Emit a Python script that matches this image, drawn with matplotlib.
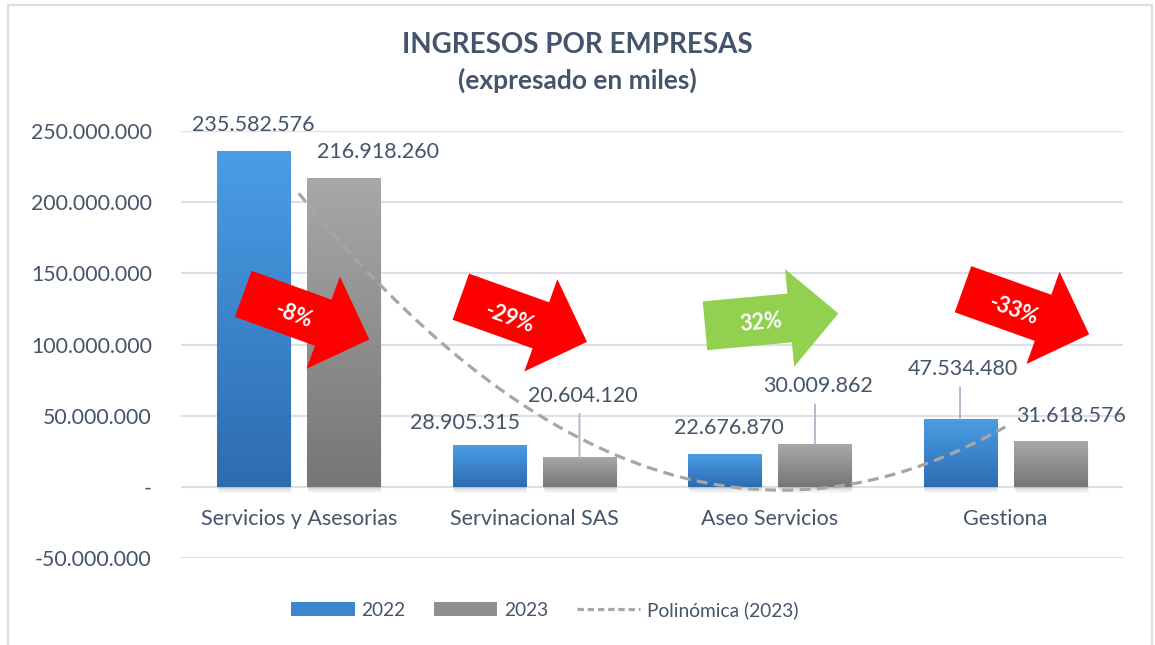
import matplotlib
matplotlib.use("Agg")
import matplotlib.pyplot as plt
import numpy as np
from matplotlib.colors import LinearSegmentedColormap
from matplotlib.patches import Patch, Polygon, Rectangle
from matplotlib.lines import Line2D
from matplotlib.ticker import FuncFormatter, MultipleLocator

plt.rcParams["font.family"] = ["Lato", "DejaVu Sans"]

# datos
empresas = ["Servicios y Asesorias", "Servinacional SAS", "Aseo Servicios", "Gestiona"]
ingresos_2022 = [235582576, 28905315, 22676870, 47534480]
ingresos_2023 = [216918260, 20604120, 30009862, 31618576]
variacion = ["-8%", "-29%", "32%", "-33%"]

TXT = "#44546A"
W, H = 1155, 645

fig = plt.figure(figsize=(W / 100, H / 100), dpi=100)
ax = fig.add_axes([181 / W, 1 - 558.3 / H, 942 / W, 427.3 / H])

# marco del grafico
fig.patches.append(Rectangle((8 / W, -0.1), 1144 / W, 1.1 - 5 / H, transform=fig.transFigure,
                             fill=False, ec="#D9DEE6", lw=1.5))

x = np.arange(len(empresas))
off, bw = 0.192, 0.31

cmap_azul = LinearSegmentedColormap.from_list("az", ["#2E6CB0", "#4A9DE6"])
cmap_gris = LinearSegmentedColormap.from_list("gr", ["#767676", "#A8A8A8"])
grad = np.linspace(0, 1, 256).reshape(-1, 1)


def barras_gradiente(xpos, vals, cmap):
    bars = ax.bar(xpos, vals, bw, color="none", zorder=3)
    for b in bars:
        x0, w, h = b.get_x(), b.get_width(), b.get_height()
        # sombra suave
        for k, a in enumerate([0.06, 0.05, 0.04]):
            ax.add_patch(Rectangle((x0 + 0.004 * k, -1.5e6 * (k + 1)), w, h, fc="#000000",
                                   alpha=a, ec="none", zorder=2))
        ax.imshow(grad, extent=[x0, x0 + w, 0, h], origin="lower", cmap=cmap,
                  aspect="auto", zorder=3)
    return bars


b22 = barras_gradiente(x - off, ingresos_2022, cmap_azul)
b23 = barras_gradiente(x + off, ingresos_2023, cmap_gris)

# linea de tendencia polinomica (orden 2) sobre 2023
coef = np.polyfit(x, ingresos_2023, 2)
xs = np.linspace(x[0], x[-1], 200)
ax.plot(xs, np.polyval(coef, xs), color="#A6A6A6", lw=2.3, dashes=(3.4, 2.0), zorder=4)

ax.set_xlim(-0.5, 3.5)
ax.set_ylim(-50e6, 250e6)
ax.yaxis.set_major_locator(MultipleLocator(50e6))
ax.yaxis.set_major_formatter(FuncFormatter(lambda v, p: "-" if v == 0 else f"{int(v):,}".replace(",", ".")))
ax.grid(axis="y", color="#DCE0E6", lw=1.5, zorder=0)
ax.set_axisbelow(True)
for s in ax.spines.values():
    s.set_visible(False)
ax.spines["bottom"].set_position(("data", 0))
ax.tick_params(axis="y", length=0, pad=21, labelsize=15.3, labelcolor=TXT)
ax.tick_params(axis="x", length=0, pad=16, labelsize=15.5, labelcolor=TXT)
ax.set_xticks(x)
ax.set_xticklabels(empresas)


def fmt(v):
    return f"{v:,}".replace(",", ".")


# etiquetas de datos (desplazamiento en pixeles, linea guia)
etq22 = [(0, 27, False), (-24, 23, False), (4, 27, False), (2.5, 50, True)]
etq23 = [(34.5, 26, False), (3, 62, True), (3, 58, True), (21, 26, False)]
for bars, vals, etq in [(b22, ingresos_2022, etq22), (b23, ingresos_2023, etq23)]:
    for b, v, (dx, dy, guia) in zip(bars, vals, etq):
        xc = b.get_x() + b.get_width() / 2
        if guia:
            ax.annotate("", xy=(xc, v), xytext=(0, dy - 18), textcoords="offset pixels",
                        arrowprops=dict(arrowstyle="-", color="#A9B6C8", lw=1.3,
                                        shrinkA=0, shrinkB=0), zorder=5)
        ax.annotate(fmt(v), xy=(xc, v), xytext=(dx, dy), textcoords="offset pixels",
                    ha="center", va="center", fontsize=15.5, color=TXT, zorder=5)

# flechas de variacion (coordenadas en pixeles de la imagen)
flechas = [((243.3, 293.8), -19.9, (294, 315)),
           ((460.8, 296.7), -19.7, (510, 318)),
           ((705.0, 325.8), 5.3, (761, 323)),
           ((963.0, 289.2), -19.7, (1014, 310))]
forma = np.array([(0, -24.5), (85, -24.5), (85, -49), (134, 0), (85, 49), (85, 24.5), (0, 24.5)])
for (cola, ang, tpos), txt in zip(flechas, variacion):
    col = "#92D050" if not txt.startswith("-") else "#FF0000"
    a = np.deg2rad(ang)
    rot = np.array([[np.cos(a), -np.sin(a)], [np.sin(a), np.cos(a)]])
    pts = forma @ rot.T + np.array([cola[0], H - cola[1]])
    pts = pts / np.array([W, H])
    fig.patches.append(Polygon(pts, closed=True, fc=col, ec="none", transform=fig.transFigure, zorder=6))
    fig.text(tpos[0] / W, 1 - tpos[1] / H, txt, rotation=ang, rotation_mode="anchor",
             ha="center", va="center", color="white", fontsize=15.5, fontweight="bold", zorder=7)

# titulo
fig.text(0.5, 1 - 45 / H, "INGRESOS POR EMPRESAS", ha="center", va="center",
         fontsize=20, fontweight="bold", color=TXT)
fig.text(0.5, 1 - 80 / H, "(expresado en miles)", ha="center", va="center",
         fontsize=19, fontweight="bold", color=TXT)

# leyenda
handles = [Patch(fc="#3D86D0", ec="none"), Patch(fc="#8F8F8F", ec="none"),
           Line2D([], [], color="#A6A6A6", lw=2.3, dashes=(2.0, 1.2))]
leg = fig.legend(handles, ["2022", "2023", "Polinómica (2023)"], loc="center", ncol=3,
                 bbox_to_anchor=(545 / W, 1 - 610 / H), frameon=False, fontsize=13.8,
                 handlelength=3.3, handleheight=0.75, handletextpad=0.35, columnspacing=1.5,
                 labelcolor=TXT)

fig.savefig("out.png", dpi=100)
